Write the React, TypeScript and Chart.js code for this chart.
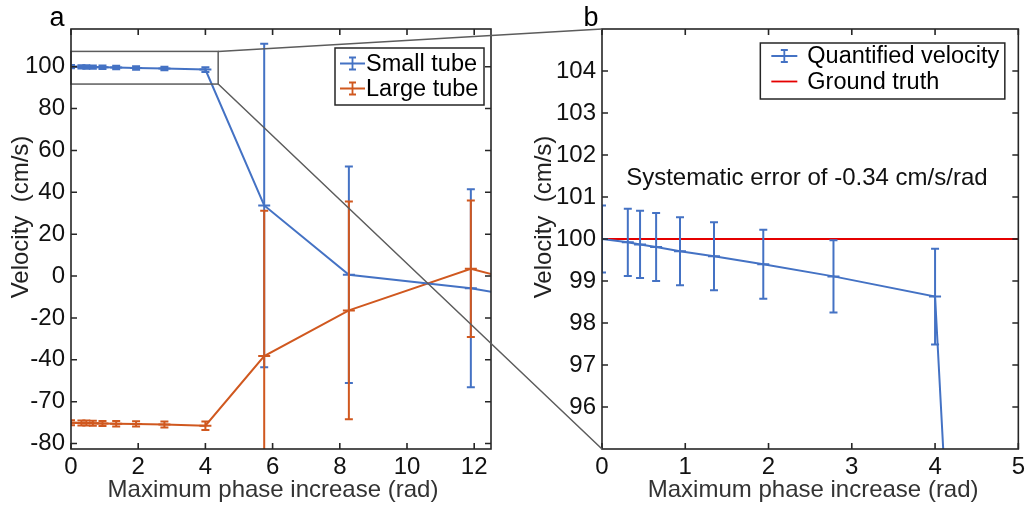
import React, { useEffect, useRef } from 'react';
import { Chart, registerables } from 'chart.js';

Chart.register(...registerables);

// ---------- data ----------
const phaseX = [0, 0.31, 0.457, 0.65, 0.937, 1.345, 1.937, 2.78, 4.0, 5.75, 8.27, 11.9, 13.8];
const smallTubeV = [100.0, 99.92, 99.87, 99.81, 99.71, 99.59, 99.4, 99.11, 98.63, 33.7, 0.6, -5.8, -11.1];
const smallTubeErr = [0.8, 0.8, 0.8, 0.81, 0.81, 0.81, 0.82, 0.86, 1.14, 77.2, 51.7, 47.3, 45];
const largeTubeV = [-70.1, -70.2, -70.2, -70.3, -70.4, -70.5, -70.6, -70.9, -71.5, -38.2, -16.4, 3.45, -4.3];
const largeTubeErr = [1.2, 1.2, 1.2, 1.2, 1.2, 1.3, 1.3, 1.4, 2.0, 69.4, 52, 32.6, 30];
const groundTruthX = [0, 5];
const groundTruthV = [100, 100];

const xTicksA = [0, 2, 4, 6, 8, 10, 12];
const yTicksA = [-80, -60, -40, -20, 0, 20, 40, 60, 80, 100];
const yTickLabelsA = ['-80', '-70', '-40', '-20', '0', '20', '40', '60', '80', '100'];
const xTicksB = [0, 1, 2, 3, 4, 5];
const yTicksB = [96, 97, 98, 99, 100, 101, 102, 103, 104];

const zoomBoxX = [0, 4.38];
const zoomBoxY = [91.7, 107.3];
const annotationText = 'Systematic error of -0.34 cm/s/rad';
const annotationAt = [0.29, 101.45];
const xTitle = 'Maximum phase increase (rad)';
const yTitle = 'Velocity  (cm/s)';

// ---------- style ----------
const FONT = "'Liberation Sans', Arial, Helvetica, sans-serif";
const BLUE = '#4472C4';
const ORANGE = '#D0581F';
const RED = '#E50000';
const AXIS = '#262626';
const GRAY = '#5c5c5c';

const pts = (xs: number[], ys: number[]) => xs.map((x, i) => ({ x, y: ys[i] }));

// ---------- plugins ----------
const errorBarPlugin = {
  id: 'errorBars',
  afterDatasetsDraw(chart: any) {
    const { ctx, chartArea: a, scales } = chart;
    const x = scales.x, y = scales.y;
    ctx.save();
    ctx.beginPath();
    ctx.rect(a.left, a.top, a.right - a.left, a.bottom - a.top);
    ctx.clip();
    chart.data.datasets.forEach((ds: any) => {
      if (!ds.errors) return;
      ctx.strokeStyle = ds.borderColor;
      ctx.lineWidth = 2;
      ds.data.forEach((p: any, i: number) => {
        const e = ds.errors[i];
        const px = x.getPixelForValue(p.x);
        const py = y.getPixelForValue(p.y);
        const top = y.getPixelForValue(p.y + e);
        const bot = y.getPixelForValue(p.y - e);
        ctx.beginPath();
        ctx.moveTo(px, top); ctx.lineTo(px, bot);
        ctx.moveTo(px - 4, top); ctx.lineTo(px + 4, top);
        ctx.moveTo(px - 4, bot); ctx.lineTo(px + 4, bot);
        ctx.moveTo(px - 6, py); ctx.lineTo(px + 6, py);
        ctx.stroke();
      });
    });
    ctx.restore();
  },
};

const framePlugin = {
  id: 'frame',
  afterDraw(chart: any, _a: any, opts: any) {
    const { ctx, chartArea: a, scales } = chart;
    const x = scales.x, y = scales.y;
    ctx.save();
    // zoom box
    if (opts.zoomBox) {
      const x0 = x.getPixelForValue(zoomBoxX[0]);
      const x1 = x.getPixelForValue(zoomBoxX[1]);
      const y0 = y.getPixelForValue(zoomBoxY[1]);
      const y1 = y.getPixelForValue(zoomBoxY[0]);
      ctx.strokeStyle = GRAY;
      ctx.lineWidth = 1.5;
      ctx.strokeRect(x0, y0, x1 - x0, y1 - y0);
    }
    // annotation
    if (opts.annotation) {
      ctx.fillStyle = '#111';
      ctx.font = `24px ${FONT}`;
      ctx.textAlign = 'left';
      ctx.textBaseline = 'middle';
      ctx.fillText(annotationText, x.getPixelForValue(annotationAt[0]), y.getPixelForValue(annotationAt[1]));
    }
    // axis titles
    if (opts.titles) {
      const T = opts.titles;
      ctx.font = `24px ${FONT}`;
      ctx.textAlign = 'center';
      ctx.textBaseline = 'alphabetic';
      ctx.fillStyle = '#333';
      ctx.fillText(xTitle, (a.left + a.right) / 2 + T.xShift, T.xBaseline);
      ctx.fillStyle = '#222';
      ctx.save();
      ctx.translate(T.yBaseline, (a.top + a.bottom) / 2 + T.yShift);
      ctx.rotate(-Math.PI / 2);
      ctx.fillText(yTitle, 0, 0);
      ctx.restore();
    }
    // frame + inward ticks
    ctx.strokeStyle = AXIS;
    ctx.lineWidth = 1.6;
    ctx.strokeRect(a.left, a.top, a.right - a.left, a.bottom - a.top);
    ctx.beginPath();
    x.ticks.forEach((t: any) => {
      const px = x.getPixelForValue(t.value);
      ctx.moveTo(px, a.bottom); ctx.lineTo(px, a.bottom - 6);
      ctx.moveTo(px, a.top); ctx.lineTo(px, a.top + 6);
    });
    y.ticks.forEach((t: any) => {
      const py = y.getPixelForValue(t.value);
      ctx.moveTo(a.left, py); ctx.lineTo(a.left + 6, py);
      ctx.moveTo(a.right, py); ctx.lineTo(a.right - 6, py);
    });
    ctx.stroke();
    // panel label
    if (opts.panel) {
      ctx.fillStyle = '#000';
      ctx.font = `27px ${FONT}`;
      ctx.textAlign = 'center';
      ctx.textBaseline = 'alphabetic';
      ctx.fillText(opts.panel.text, opts.panel.x, opts.panel.y);
    }
    // legend
    const L = opts.legend;
    if (L) {
      const x1 = a.right - L.right;
      const x0 = x1 - L.width;
      const y0 = a.top + L.top;
      ctx.fillStyle = '#fff';
      ctx.fillRect(x0, y0, L.width, L.height);
      ctx.strokeStyle = AXIS;
      ctx.lineWidth = 1.5;
      ctx.strokeRect(x0, y0, L.width, L.height);
      chart.data.datasets.forEach((ds: any, i: number) => {
        const cy = y0 + L.firstRow + i * L.rowGap;
        const ix0 = x0 + L.iconX;
        const ix1 = ix0 + L.iconW;
        const cx = (ix0 + ix1) / 2;
        ctx.strokeStyle = ds.borderColor;
        ctx.lineWidth = 1.8;
        ctx.beginPath();
        ctx.moveTo(ix0, cy); ctx.lineTo(ix1, cy);
        if (ds.errors) {
          ctx.moveTo(cx, cy - 6); ctx.lineTo(cx, cy + 6);
          ctx.moveTo(cx - 3.5, cy - 6); ctx.lineTo(cx + 3.5, cy - 6);
          ctx.moveTo(cx - 3.5, cy + 6); ctx.lineTo(cx + 3.5, cy + 6);
        }
        ctx.stroke();
        ctx.fillStyle = '#000';
        ctx.font = `23.5px ${FONT}`;
        ctx.textAlign = 'left';
        ctx.textBaseline = 'middle';
        ctx.fillText(ds.label, x0 + L.textX, cy + 1);
      });
    }
    ctx.restore();
  },
};

const tickFont = { family: FONT, size: 24 };

function makeScales(xMin: number, xMax: number, xTicks: number[], yMin: number, yMax: number,
  yTicks: number[], yLabels: string[] | null, yWidth: number) {
  return {
    x: {
      type: 'linear',
      min: xMin,
      max: xMax,
      afterBuildTicks: (s: any) => { s.ticks = xTicks.map((v) => ({ value: v })); },
      afterFit: (s: any) => { s.height = 56; },
      grid: { display: false, drawTicks: false },
      border: { display: false },
      ticks: { font: tickFont, color: '#111', padding: 4, maxRotation: 0, autoSkip: false },
      title: { display: false },
    },
    y: {
      type: 'linear',
      min: yMin,
      max: yMax,
      afterBuildTicks: (s: any) => { s.ticks = yTicks.map((v) => ({ value: v })); },
      afterFit: (s: any) => { s.width = yWidth; },
      grid: { display: false, drawTicks: false },
      border: { display: false },
      ticks: {
        font: tickFont, color: '#111', padding: 6, autoSkip: false,
        callback: (v: any, i: number) => (yLabels ? yLabels[i] : String(v)),
      },
      title: { display: false },
    },
  };
}

export default function App() {
  const leftRef = useRef<HTMLCanvasElement>(null);
  const rightRef = useRef<HTMLCanvasElement>(null);
  const overRef = useRef<HTMLCanvasElement>(null);

  useEffect(() => {
    const left = new Chart(leftRef.current as HTMLCanvasElement, {
      type: 'line',
      data: {
        datasets: [
          { label: 'Small tube', data: pts(phaseX, smallTubeV), errors: smallTubeErr, borderColor: BLUE, borderWidth: 2, pointRadius: 0, tension: 0 } as any,
          { label: 'Large tube', data: pts(phaseX, largeTubeV), errors: largeTubeErr, borderColor: ORANGE, borderWidth: 2, pointRadius: 0, tension: 0 } as any,
        ],
      },
      options: {
        responsive: false,
        animation: false,
        layout: { padding: { left: 0, top: 29, right: 29, bottom: 0 } },
        scales: makeScales(0, 12.5, xTicksA, -82.6, 118, yTicksA, yTickLabelsA, 71) as any,
        plugins: {
          legend: { display: false },
          tooltip: { enabled: false },
          frame: {
            zoomBox: true,
            titles: { xShift: -8, xBaseline: 497, yBaseline: 27.5, yShift: -22 },
            panel: { text: 'a', x: 57, y: 26 },
            legend: { right: 7, width: 149, top: 19, height: 57, firstRow: 15.5, rowGap: 25, iconX: 5, iconW: 25, textX: 31 },
          },
        } as any,
      },
      plugins: [errorBarPlugin, framePlugin],
    } as any);

    const right = new Chart(rightRef.current as HTMLCanvasElement, {
      type: 'line',
      data: {
        datasets: [
          { label: 'Quantified velocity', data: pts(phaseX, smallTubeV), errors: smallTubeErr, borderColor: BLUE, borderWidth: 2, pointRadius: 0, tension: 0 } as any,
          { label: 'Ground truth', data: pts(groundTruthX, groundTruthV), borderColor: RED, borderWidth: 2, pointRadius: 0, tension: 0 } as any,
        ],
      },
      options: {
        responsive: false,
        animation: false,
        layout: { padding: { left: 0, top: 29, right: 7, bottom: 0 } },
        scales: makeScales(0, 5, xTicksB, 95, 105, yTicksB, null, 82) as any,
        plugins: {
          legend: { display: false },
          tooltip: { enabled: false },
          frame: {
            annotation: true,
            titles: { xShift: 3, xBaseline: 497, yBaseline: 31, yShift: -22 },
            panel: { text: 'b', x: 71, y: 26 },
            legend: { right: 13.5, width: 244.5, top: 14, height: 56, firstRow: 13, rowGap: 25.5, iconX: 11, iconW: 26, textX: 47 },
          },
        } as any,
      },
      plugins: [errorBarPlugin, framePlugin],
    } as any);

    // connector lines from the zoom box to panel b
    const oc = overRef.current as HTMLCanvasElement;
    const ctx = oc.getContext('2d') as CanvasRenderingContext2D;
    ctx.clearRect(0, 0, oc.width, oc.height);
    const lx = left.scales.x.getPixelForValue(zoomBoxX[1]);
    const lyTop = left.scales.y.getPixelForValue(zoomBoxY[1]);
    const lyBot = left.scales.y.getPixelForValue(zoomBoxY[0]);
    const ra = right.chartArea;
    const offset = 520;
    ctx.strokeStyle = GRAY;
    ctx.lineWidth = 1.5;
    ctx.beginPath();
    ctx.moveTo(lx, lyTop); ctx.lineTo(ra.left + offset, ra.top);
    ctx.moveTo(lx, lyBot); ctx.lineTo(ra.left + offset, ra.bottom);
    ctx.stroke();

    return () => { left.destroy(); right.destroy(); };
  }, []);

  return (
    <div style={{ position: 'fixed', left: 0, top: 0, width: 1029, height: 505, background: '#fff' }}>
      <canvas ref={leftRef} width={520} height={505} style={{ position: 'absolute', left: 0, top: 0 }} />
      <canvas ref={rightRef} width={509} height={505} style={{ position: 'absolute', left: 520, top: 0 }} />
      <canvas ref={overRef} width={1029} height={505} style={{ position: 'absolute', left: 0, top: 0, pointerEvents: 'none' }} />
    </div>
  );
}
